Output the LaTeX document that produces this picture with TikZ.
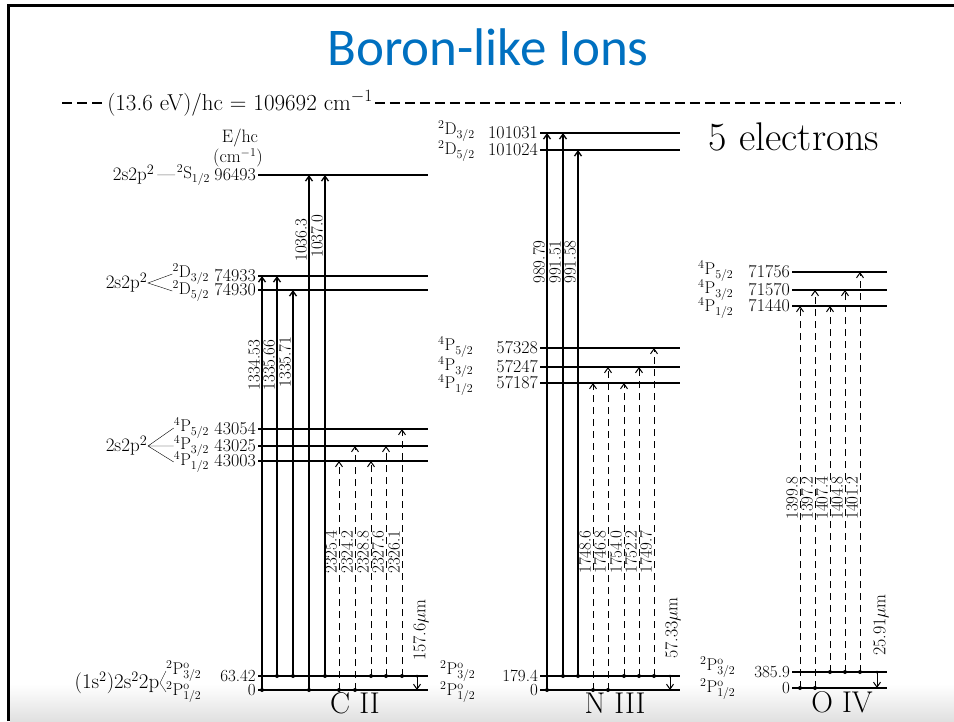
\documentclass[tikz,border=0pt]{standalone}
\usepackage{fontspec}
\newfontfamily\titlefont{Carlito}
\usetikzlibrary{arrows.meta,positioning}
\definecolor{slideblue}{RGB}{0,112,192}
\begin{document}
\begin{tikzpicture}[x=1pt,y=-1pt,>={Straight Barb[length=5pt,width=7pt]},every node/.style={font=\fontsize{19}{19}\selectfont,inner sep=0.5pt},level/.style={line width=1.2pt},uparr/.style={->,line width=1.3pt},duparr/.style={->,line width=1pt,dash pattern=on 7pt off 5pt},dnarr/.style={->,line width=1pt},wl/.style={rotate=90,anchor=south,inner sep=1pt,font=\fontsize{17}{17}\selectfont},ion/.style={font=\fontsize{30}{30}\selectfont},num/.style={left,inner sep=0pt,font=\fontsize{18}{18}\selectfont},term/.style={anchor=west,inner sep=0pt,font=\fontsize{17}{17}\selectfont},cterm/.style={inner sep=0pt,font=\fontsize{17}{17}\selectfont},gnum/.style={left,inner sep=0pt,font=\fontsize{17}{17}\selectfont}]
\useasboundingbox (0,0) rectangle (954,721);
\shade[top color=white,bottom color=black!12] (10,684) rectangle (954,721);
\draw[line width=3pt] (8,721) -- (8,5) -- (954,5);
\node[font=\titlefont\fontsize{53}{53}\selectfont,text=slideblue] (title) at (488,47) {Boron-like Ions};
\node[font=\fontsize{23}{23}\selectfont,inner sep=2pt] (ryd) at (240,103) {(13.6 eV)/hc = 109692 cm$^{-1}$};
\draw[line width=1.2pt,dash pattern=on 10pt off 5pt] (62,103) -- (ryd.west) (ryd.east) -- (900,103);
\node[font=\fontsize{18}{18}\selectfont] (ehc) at (240,138) {E/hc};\node[font=\fontsize{18}{18}\selectfont] (cmi) at (238,158) {(cm$^{-1}$)};
\node[font=\fontsize{40}{40}\selectfont] (five) at (794,137) {5 electrons};
% C II
\coordinate (cS) at (258,175);\coordinate (cDa) at (258,276);\coordinate (cDb) at (258,290);\coordinate (cP5) at (258,429);\coordinate (cP3) at (258,446);\coordinate (cP1) at (258,461);\coordinate (cG3) at (258,676);\coordinate (cG1) at (258,690);
\draw[level] (cS) -- ++(170,0) (cDa) -- ++(170,0) (cDb) -- ++(170,0) (cP5) -- ++(170,0) (cP3) -- ++(170,0) (cP1) -- ++(170,0) (cG3) -- ++(170,0) (cG1) -- ++(170,0);
\node[num] (cSn) at ([xshift=-2pt]cS) {96493};\node[cterm,left=4pt of cSn] (cSt) {$^2\mathrm{S}_{1/2}$};\node[left=1pt of cSt] (cSc) {2s2p$^2$\,---};
\node[num] (cDan) at ([xshift=-2pt]cDa) {74933};\node[num] (cDbn) at ([xshift=-2pt]cDb) {74930};
\node[cterm,left=5pt of cDan,yshift=2pt] (cDat) {$^2\mathrm{D}_{3/2}$};\node[cterm,left=5pt of cDbn,yshift=-1pt] (cDbt) {$^2\mathrm{D}_{5/2}$};
\coordinate (cDv) at (148,283);\draw (cDat.west) -- (cDv) -- (cDbt.west);\node[left] (cDc) at (cDv) {2s2p$^2$};
\node[num] (cP5n) at ([xshift=-2pt]cP5) {43054};\node[num] (cP3n) at ([xshift=-2pt]cP3) {43025};\node[num] (cP1n) at ([xshift=-2pt]cP1) {43003};
\node[cterm,left=5pt of cP5n,yshift=1pt] (cP5t) {$^4\mathrm{P}_{5/2}$};\node[cterm,left=5pt of cP3n] (cP3t) {$^4\mathrm{P}_{3/2}$};\node[cterm,left=5pt of cP1n,yshift=-1pt] (cP1t) {$^4\mathrm{P}_{1/2}$};
\coordinate (cPv) at (148,446);\draw (cP5t.west) -- (cPv) -- (cP1t.west) (cPv) -- (cP3t.west);\node[left] (cPc) at (cPv) {2s2p$^2$};
\node[gnum] (cG3n) at ([xshift=-2pt]cG3) {63.42};\node[gnum] (cG1n) at ([xshift=-2pt]cG1) {0};
\node[term] (cG3t) at (166,671) {$^2\mathrm{P}^{\mathrm o}_{3/2}$};\node[term] (cG1t) at (166,692) {$^2\mathrm{P}^{\mathrm o}_{1/2}$};
\coordinate (cGv) at (160,683);\draw (cG3t.west) -- (cGv) -- (cG1t.west);\node[left,font=\fontsize{21}{21}\selectfont] (cGc) at (cGv) {(1s$^2$)2s$^2$2p};
\draw[uparr] (262,690) -- (262,276);\fill (262,690) circle (2pt);\node[wl] (c1) at (261,365) {1334.53};
\draw[uparr] (277,676) -- (277,276);\fill (277,676) circle (2pt);\node[wl] (c2) at (276,365) {1335.66};
\draw[uparr] (293,676) -- (293,290);\fill (293,676) circle (2pt);\node[wl] (c3) at (292,362) {1335.71};
\draw[uparr] (309,690) -- (309,175);\fill (309,690) circle (2pt);\node[wl] (c4) at (308,240) {1036.3};
\draw[uparr] (325,676) -- (325,175);\fill (325,676) circle (2pt);\node[wl] (c5) at (324,236) {1037.0};
\draw[duparr] (339,690) -- (339,461);\fill (339,690) circle (2pt);\node[wl] (c6) at (338,552) {2325.4};
\draw[duparr] (355,690) -- (355,446);\fill (355,690) circle (2pt);\node[wl] (c7) at (354,552) {2324.2};
\draw[duparr] (371,676) -- (371,461);\fill (371,676) circle (2pt);\node[wl] (c8) at (370,552) {2328.8};
\draw[duparr] (386,676) -- (386,446);\fill (386,676) circle (2pt);\node[wl] (c9) at (385,552) {2327.6};
\draw[duparr] (402,676) -- (402,429);\fill (402,676) circle (2pt);\node[wl] (c10) at (401,552) {2326.1};
\draw[dnarr] (417,676) -- (417,690);\fill (417,676) circle (1.5pt);\node[rotate=90,font=\fontsize{18}{18}\selectfont] (cfs) at (421,630) {157.6$\mu$m};
\node[ion] (cii) at (355,703) {C II};
% N III
\coordinate (nDa) at (540,133);\coordinate (nDb) at (540,150);\coordinate (nP5) at (540,348);\coordinate (nP3) at (540,367);\coordinate (nP1) at (540,383);\coordinate (nG3) at (540,676);\coordinate (nG1) at (540,690);
\draw[level] (nDa) -- ++(140,0) (nDb) -- ++(140,0) (nP5) -- ++(140,0) (nP3) -- ++(140,0) (nP1) -- ++(140,0) (nG3) -- ++(140,0) (nG1) -- ++(140,0);
\node[num] (nDan) at ([xshift=-2pt]nDa) {101031};\node[num] (nDbn) at ([xshift=-2pt]nDb) {101024};
\node[term] (nDat) at (438,131) {$^2\mathrm{D}_{3/2}$};\node[term] (nDbt) at (438,151) {$^2\mathrm{D}_{5/2}$};
\node[num] (nP5n) at ([xshift=-2pt]nP5) {57328};\node[num] (nP3n) at ([xshift=-2pt]nP3) {57247};\node[num] (nP1n) at ([xshift=-2pt]nP1) {57187};
\node[term] (nP5t) at (438,347) {$^4\mathrm{P}_{5/2}$};\node[term] (nP3t) at (438,367) {$^4\mathrm{P}_{3/2}$};\node[term] (nP1t) at (438,385) {$^4\mathrm{P}_{1/2}$};
\node[gnum] (nG3n) at ([xshift=-2pt]nG3) {179.4};\node[gnum] (nG1n) at ([xshift=-2pt]nG1) {0};
\node[term] (nG3t) at (440,671) {$^2\mathrm{P}^{\mathrm o}_{3/2}$};\node[term] (nG1t) at (440,692) {$^2\mathrm{P}^{\mathrm o}_{1/2}$};
\draw[uparr] (547,690) -- (547,133);\fill (547,690) circle (2pt);\node[wl] (n1) at (546,262) {989.79};
\draw[uparr] (563,676) -- (563,133);\fill (563,676) circle (2pt);\node[wl] (n2) at (562,262) {991.51};
\draw[uparr] (578,676) -- (578,150);\fill (578,676) circle (2pt);\node[wl] (n3) at (577,262) {991.58};
\draw[duparr] (593,690) -- (593,383);\fill (593,690) circle (2pt);\node[wl] (n4) at (592,552) {1748.6};
\draw[duparr] (608,690) -- (608,367);\fill (608,690) circle (2pt);\node[wl] (n5) at (607,552) {1746.8};
\draw[duparr] (624,676) -- (624,383);\fill (624,676) circle (2pt);\node[wl] (n6) at (623,552) {1754.0};
\draw[duparr] (639,676) -- (639,367);\fill (639,676) circle (2pt);\node[wl] (n7) at (638,552) {1752.2};
\draw[duparr] (654,676) -- (654,348);\fill (654,676) circle (2pt);\node[wl] (n8) at (653,552) {1749.7};
\draw[dnarr] (670,676) -- (670,690);\fill (670,676) circle (1.5pt);\node[rotate=90,font=\fontsize{18}{18}\selectfont] (nfs) at (673,628) {57.33$\mu$m};
\node[ion] (niii) at (615,703) {N III};
% O IV
\coordinate (oP5) at (792,272);\coordinate (oP3) at (792,290);\coordinate (oP1) at (792,306);\coordinate (oG3) at (792,672);\coordinate (oG1) at (792,688);
\draw[level] (oP5) -- ++(95,0) (oP3) -- ++(95,0) (oP1) -- ++(95,0) (oG3) -- ++(95,0) (oG1) -- ++(95,0);
\node[num] (oP5n) at ([xshift=-2pt]oP5) {71756};\node[num] (oP3n) at ([xshift=-2pt]oP3) {71570};\node[num] (oP1n) at ([xshift=-2pt]oP1) {71440};
\node[term] (oP5t) at (698,271) {$^4\mathrm{P}_{5/2}$};\node[term] (oP3t) at (698,290) {$^4\mathrm{P}_{3/2}$};\node[term] (oP1t) at (698,308) {$^4\mathrm{P}_{1/2}$};
\node[gnum] (oG3n) at ([xshift=-2pt]oG3) {385.9};\node[gnum] (oG1n) at ([xshift=-2pt]oG1) {0};
\node[term] (oG3t) at (700,667) {$^2\mathrm{P}^{\mathrm o}_{3/2}$};\node[term] (oG1t) at (700,689) {$^2\mathrm{P}^{\mathrm o}_{1/2}$};
\draw[duparr] (800,688) -- (800,306);\fill (800,688) circle (2pt);\node[wl] (o1) at (799,498) {1399.8};
\draw[duparr] (815,688) -- (815,290);\fill (815,688) circle (2pt);\node[wl] (o2) at (814,498) {1397.2};
\draw[duparr] (830,672) -- (830,306);\fill (830,672) circle (2pt);\node[wl] (o3) at (829,498) {1407.4};
\draw[duparr] (845,672) -- (845,290);\fill (845,672) circle (2pt);\node[wl] (o4) at (844,498) {1404.8};
\draw[duparr] (860,672) -- (860,272);\fill (860,672) circle (2pt);\node[wl] (o5) at (859,498) {1401.2};
\draw[dnarr] (877,672) -- (877,688);\fill (877,672) circle (1.5pt);\node[rotate=90,font=\fontsize{18}{18}\selectfont] (ofs) at (881,625) {25.91$\mu$m};
\node[ion] (oiv) at (842,702) {O IV};
\end{tikzpicture}
\end{document}
